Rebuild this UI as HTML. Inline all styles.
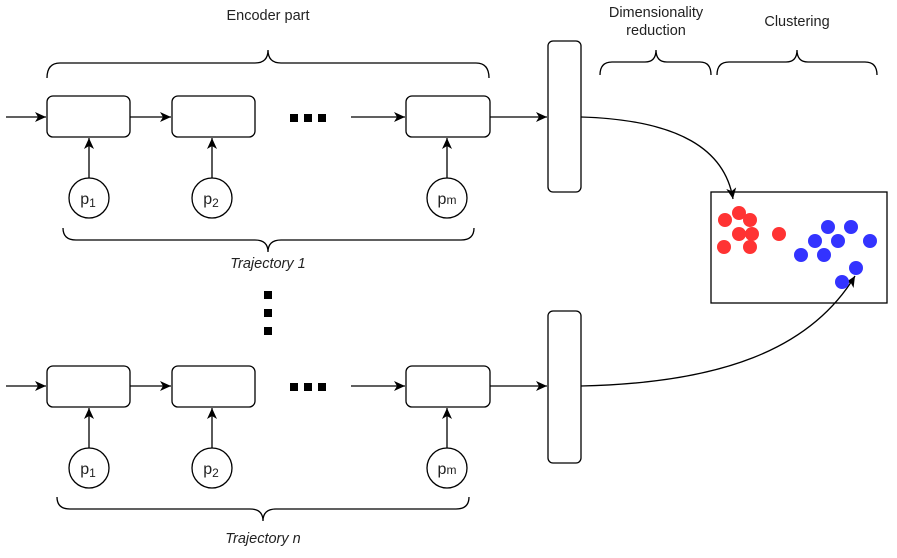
<!DOCTYPE html>
<html><head><style>
body{margin:0;background:#fff;}
svg{display:block;font-family:"Liberation Sans",sans-serif;}
</style></head><body>
<svg width="897" height="558" viewBox="0 0 897 558">
<defs>
<marker id="a" markerWidth="12" markerHeight="12" refX="11" refY="6" orient="auto" markerUnits="userSpaceOnUse">
<path d="M0,1 L11,6 L0,11 L3,6 Z" fill="#000"/></marker>
</defs>
<g fill="none" stroke="#000" stroke-width="1.3">
<line x1="6" y1="117" x2="46" y2="117" marker-end="url(#a)"/>
<rect x="47" y="96" width="83" height="41" rx="6"/>
<line x1="130" y1="117" x2="171" y2="117" marker-end="url(#a)"/>
<rect x="172" y="96" width="83" height="41" rx="6"/>
<line x1="351" y1="117" x2="405" y2="117" marker-end="url(#a)"/>
<rect x="406" y="96" width="84" height="41" rx="6"/>
<line x1="490" y1="117" x2="547" y2="117" marker-end="url(#a)"/>
<rect x="548" y="41" width="33" height="151" rx="5"/>
<line x1="89" y1="178" x2="89" y2="138" marker-end="url(#a)"/>
<line x1="212" y1="178" x2="212" y2="138" marker-end="url(#a)"/>
<line x1="447" y1="178" x2="447" y2="138" marker-end="url(#a)"/>
<circle cx="89" cy="198" r="20"/><circle cx="212" cy="198" r="20"/><circle cx="447" cy="198" r="20"/>
<path d="M47,78 Q47,63 60,63 L255,63 Q268,63 268,50 Q268,63 281,63 L476,63 Q489,63 489,78"/>
<path d="M63,228 Q63,240 76,240 L255,240 Q268,240 268,252 Q268,240 281,240 L461,240 Q474,240 474,228"/>
<line x1="6" y1="386" x2="46" y2="386" marker-end="url(#a)"/>
<rect x="47" y="366" width="83" height="41" rx="6"/>
<line x1="130" y1="386" x2="171" y2="386" marker-end="url(#a)"/>
<rect x="172" y="366" width="83" height="41" rx="6"/>
<line x1="351" y1="386" x2="405" y2="386" marker-end="url(#a)"/>
<rect x="406" y="366" width="84" height="41" rx="6"/>
<line x1="490" y1="386" x2="547" y2="386" marker-end="url(#a)"/>
<rect x="548" y="311" width="33" height="152" rx="5"/>
<line x1="89" y1="448" x2="89" y2="408" marker-end="url(#a)"/>
<line x1="212" y1="448" x2="212" y2="408" marker-end="url(#a)"/>
<line x1="447" y1="448" x2="447" y2="408" marker-end="url(#a)"/>
<circle cx="89" cy="468" r="20"/><circle cx="212" cy="468" r="20"/><circle cx="447" cy="468" r="20"/>
<path d="M57,497 Q57,509 70,509 L250,509 Q263,509 263,521 Q263,509 276,509 L456,509 Q469,509 469,497"/>
<path d="M600,75 Q600,62 612,62 L645,62 Q656,62 656,50 Q656,62 667,62 L700,62 Q711,62 711,75"/>
<path d="M717,75 Q717,62 729,62 L786,62 Q797,62 797,50 Q797,62 808,62 L865,62 Q877,62 877,75"/>
<rect x="711" y="192" width="176" height="111"/>
<path d="M581,117 C680,120 725,150 733,199" marker-end="url(#a)"/>
<path d="M581,386 C720,383 810,350 855,276" marker-end="url(#a)"/>
</g>
<g fill="#000">
<rect x="290" y="114" width="8" height="8"/><rect x="304" y="114" width="8" height="8"/><rect x="318" y="114" width="8" height="8"/>
<rect x="290" y="383" width="8" height="8"/><rect x="304" y="383" width="8" height="8"/><rect x="318" y="383" width="8" height="8"/>
<rect x="264" y="291" width="8" height="8"/><rect x="264" y="309" width="8" height="8"/><rect x="264" y="327" width="8" height="8"/>
</g>
<g fill="#f33">
<circle cx="725" cy="220" r="7"/><circle cx="739" cy="213" r="7"/><circle cx="750" cy="220" r="7"/>
<circle cx="739" cy="234" r="7"/><circle cx="752" cy="234" r="7"/><circle cx="724" cy="247" r="7"/>
<circle cx="750" cy="247" r="7"/><circle cx="779" cy="234" r="7"/>
</g>
<g fill="#33f">
<circle cx="828" cy="227" r="7"/><circle cx="851" cy="227" r="7"/><circle cx="815" cy="241" r="7"/>
<circle cx="838" cy="241" r="7"/><circle cx="870" cy="241" r="7"/><circle cx="801" cy="255" r="7"/>
<circle cx="824" cy="255" r="7"/><circle cx="856" cy="268" r="7"/><circle cx="842" cy="282" r="7"/>
</g>
<g font-size="14.5" fill="#222" text-anchor="middle">
<text x="268" y="20">Encoder part</text>
<text x="656" y="17">Dimensionality</text>
<text x="656" y="35">reduction</text>
<text x="797" y="26">Clustering</text>
<text x="268" y="268" font-style="italic">Trajectory 1</text>
<text x="263" y="543" font-style="italic">Trajectory n</text>
<g font-size="16">
<text x="88" y="204">p<tspan font-size="12" dy="3">1</tspan></text>
<text x="211" y="204">p<tspan font-size="12" dy="3">2</tspan></text>
<text x="447" y="204">p<tspan font-size="12">m</tspan></text>
<text x="88" y="474">p<tspan font-size="12" dy="3">1</tspan></text>
<text x="211" y="474">p<tspan font-size="12" dy="3">2</tspan></text>
<text x="447" y="474">p<tspan font-size="12">m</tspan></text>
</g>
</g>
</svg>
</body></html>
